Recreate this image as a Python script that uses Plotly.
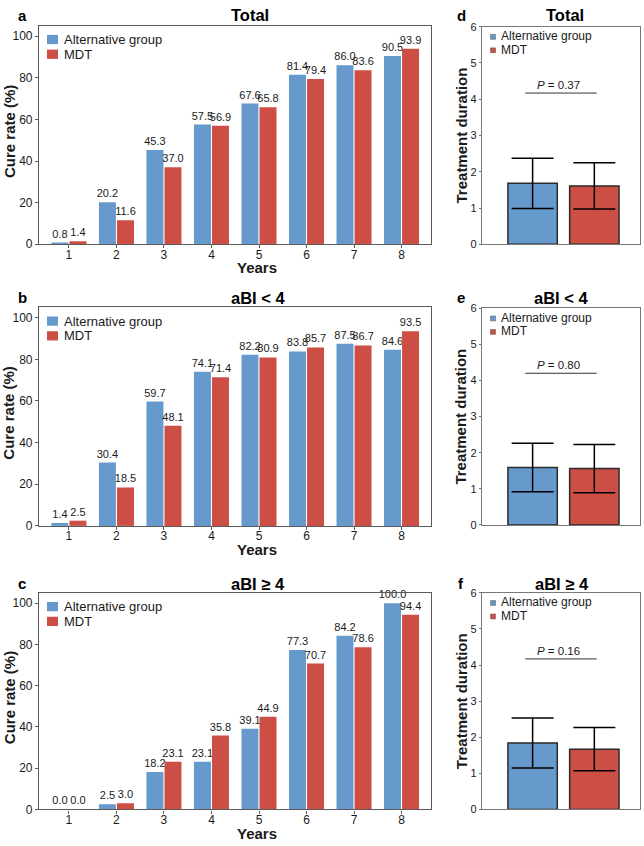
import plotly.graph_objects as go

# ---------------- data ----------------
years = [1, 2, 3, 4, 5, 6, 7, 8]
total_alt = [0.8, 20.2, 45.3, 57.5, 67.6, 81.4, 86.0, 90.5]
total_mdt = [1.4, 11.6, 37.0, 56.9, 65.8, 79.4, 83.6, 93.9]
low_alt = [1.4, 30.4, 59.7, 74.1, 82.2, 83.8, 87.5, 84.6]
low_mdt = [2.5, 18.5, 48.1, 71.4, 80.9, 85.7, 86.7, 93.5]
high_alt = [0.0, 2.5, 18.2, 23.1, 39.1, 77.3, 84.2, 100.0]
high_mdt = [0.0, 3.0, 23.1, 35.8, 44.9, 70.7, 78.6, 94.4]

groups = ["Alternative group", "MDT"]
dur_alt_mean = [1.68, 1.59, 1.84]
dur_alt_sd = [0.69, 0.67, 0.69]
dur_mdt_mean = [1.61, 1.56, 1.67]
dur_mdt_sd = [0.64, 0.67, 0.60]
p_values = ["0.37", "0.80", "0.16"]
p_line_y = [4.17, 4.20, 4.17]

titles = ["Total", "aBI < 4", "aBI ≥ 4"]
left_letters = ["a", "b", "c"]
right_letters = ["d", "e", "f"]

# ---------------- style ----------------
W, H = 644, 846
FONT = "Liberation Sans, Arial, sans-serif"
BLUE = "#6699cc"
RED = "#cc4e45"
FRAME = "#5a5a5a"
TXT = "#1a1a1a"

def px_x(x):
    return x / W

def px_y(y):
    return 1 - y / H

# plot areas in pixels: (x0, x1, ytop, ybottom)
left_boxes = [(39, 431, 20, 242), (39, 431, 306, 528), (39, 431, 596, 816)]
right_boxes = [(482, 640, 21, 242), (482, 640, 307, 527), (482, 640, 596, 816)]
left_title_x = [250, 258, 258]
right_title_x = [565, 561, 562]
title_y = [9, 297, 587]
letter_y = [10, 296, 587]

fig = go.Figure()
layout = dict(
    width=W, height=H,
    margin=dict(l=0, r=0, t=0, b=0),
    paper_bgcolor="white", plot_bgcolor="white",
    font=dict(family=FONT, color=TXT),
    barmode="group", bargap=0.24, bargroupgap=0.06,
    showlegend=False,
)
annotations = []
shapes = []

left_data = [(total_alt, total_mdt), (low_alt, low_mdt), (high_alt, high_mdt)]

for i in range(3):
    # ---------- left panel ----------
    ax = 2 * i + 1
    xa = "x" if ax == 1 else f"x{ax}"
    ya = "y" if ax == 1 else f"y{ax}"
    x0, x1, yt, yb = left_boxes[i]
    alt, mdt = left_data[i]
    for vals, name, col in [(alt, groups[0], BLUE), (mdt, groups[1], RED)]:
        fig.add_trace(go.Bar(
            x=years, y=vals, name=name, xaxis=xa, yaxis=ya,
            marker=dict(color=col, line=dict(width=0)),
            text=[f"{v:.1f}" for v in vals], textposition="outside",
            constraintext="none", cliponaxis=False,
            textfont=dict(size=11, color=TXT, family=FONT),
        ))
    layout[f"xaxis{'' if ax == 1 else ax}"] = dict(
        domain=[px_x(x0), px_x(x1)], anchor=ya, range=[0.37, 8.62],
        tickmode="array", tickvals=years, ticktext=[str(y) for y in years],
        ticks="outside", ticklen=3, tickcolor=FRAME, ticklabelstandoff=-4,
        showline=True, linecolor=FRAME, linewidth=1.2, mirror=True,
        showgrid=False, zeroline=False,
        tickfont=dict(size=12, color=TXT),
    )
    layout[f"yaxis{'' if ax == 1 else ax}"] = dict(
        domain=[px_y(yb), px_y(yt)], anchor=xa, range=[0, 105],
        tickvals=[0, 20, 40, 60, 80, 100],
        ticks="outside", ticklen=3, tickcolor=FRAME,
        showline=True, linecolor=FRAME, linewidth=1.2, mirror=True,
        showgrid=False, zeroline=False,
        tickfont=dict(size=12, color=TXT),
    )
    # titles, letters, axis labels
    annotations.append(dict(text=f"<b>{titles[i]}</b>", x=px_x(left_title_x[i]), y=px_y(title_y[i]),
                            xref="paper", yref="paper", showarrow=False, xanchor="center", yanchor="middle",
                            font=dict(size=16.5, color="#000")))
    annotations.append(dict(text=f"<b>{left_letters[i]}</b>", x=px_x(22), y=px_y(letter_y[i]),
                            xref="paper", yref="paper", showarrow=False, xanchor="center", yanchor="middle",
                            font=dict(size=15, color="#000")))
    annotations.append(dict(text="<b>Years</b>", x=px_x(257), y=px_y(yb + 24),
                            xref="paper", yref="paper", showarrow=False, xanchor="center", yanchor="middle",
                            font=dict(size=15, color=TXT)))
    annotations.append(dict(text="<b>Cure rate (%)</b>", x=px_x(9), y=px_y((yt + yb) / 2 - 3),
                            xref="paper", yref="paper", showarrow=False, xanchor="center", yanchor="middle",
                            textangle=-90, font=dict(size=15, color=TXT)))
    # legend (left)
    for k, (name, col) in enumerate(zip(groups, [BLUE, RED])):
        cy = yt + 14 + 15 * k
        shapes.append(dict(type="rect", xref="paper", yref="paper",
                           x0=px_x(47), x1=px_x(58), y0=px_y(cy - 4.7), y1=px_y(cy + 4.7),
                           fillcolor=col, line=dict(width=0)))
        annotations.append(dict(text=name, x=px_x(62), y=px_y(cy), xref="paper", yref="paper",
                                showarrow=False, xanchor="left", yanchor="middle",
                                font=dict(size=13, color=TXT)))

    # ---------- right panel ----------
    ax = 2 * i + 2
    xa = f"x{ax}"
    ya = f"y{ax}"
    x0, x1, yt, yb = right_boxes[i]
    for pos, mean, sd, name, col in [(0, dur_alt_mean[i], dur_alt_sd[i], groups[0], BLUE),
                                     (1, dur_mdt_mean[i], dur_mdt_sd[i], groups[1], RED)]:
        fig.add_trace(go.Bar(
            x=[pos], y=[mean], name=name, xaxis=xa, yaxis=ya,
            width=0.8, offset=-0.4,
            marker=dict(color=col, line=dict(color="#2a2a2a", width=1.5)),
            error_y=dict(type="data", array=[sd], visible=True, color="#000", thickness=1.5, width=21),
        ))
    layout[f"xaxis{ax}"] = dict(
        domain=[px_x(x0), px_x(x1)], anchor=ya, range=[-0.82, 1.74],
        showticklabels=False, ticks="",
        showline=True, linecolor="#777", linewidth=1.2, mirror=True,
        showgrid=False, zeroline=False,
    )
    layout[f"yaxis{ax}"] = dict(
        domain=[px_y(yb), px_y(yt)], anchor=xa, range=[0, 6],
        tickvals=[0, 1, 2, 3, 4, 5, 6],
        ticks="outside", ticklen=2, tickcolor="#777",
        showline=True, linecolor="#777", linewidth=1.2, mirror=True,
        showgrid=False, zeroline=False,
        tickfont=dict(size=11, color=TXT),
    )
    xr = f"x{ax}"
    yr = f"y{ax}"
    shapes.append(dict(type="line", xref=xr, yref=yr, x0=0 - 0.12, x1=1 + 0.04,
                       y0=p_line_y[i], y1=p_line_y[i], line=dict(color="#333", width=1)))
    annotations.append(dict(text=f"<i>P</i> = {p_values[i]}", x=0.42, y=p_line_y[i],
                            xref=xr, yref=yr, showarrow=False, xanchor="center", yanchor="bottom",
                            yshift=0, font=dict(size=11.5, color=TXT)))
    annotations.append(dict(text=f"<b>{titles[i]}</b>", x=px_x(right_title_x[i]), y=px_y(title_y[i]),
                            xref="paper", yref="paper", showarrow=False, xanchor="center", yanchor="middle",
                            font=dict(size=16.5, color="#000")))
    annotations.append(dict(text=f"<b>{right_letters[i]}</b>", x=px_x(461), y=px_y(letter_y[i]),
                            xref="paper", yref="paper", showarrow=False, xanchor="center", yanchor="middle",
                            font=dict(size=15, color="#000")))
    annotations.append(dict(text="<b>Treatment duration</b>", x=px_x(461), y=px_y((yt + yb) / 2),
                            xref="paper", yref="paper", showarrow=False, xanchor="center", yanchor="middle",
                            textangle=-90, font=dict(size=15, color=TXT)))
    # legend (right)
    for k, (name, col) in enumerate(zip(groups, [BLUE, RED])):
        cy = yt + 10.3 + 13.7 * k
        shapes.append(dict(type="rect", xref="paper", yref="paper",
                           x0=px_x(490.5), x1=px_x(495.5), y0=px_y(cy - 2.5), y1=px_y(cy + 2.5),
                           fillcolor=col, line=dict(width=0.5, color="#555")))
        annotations.append(dict(text=name, x=px_x(499), y=px_y(cy - 0.8), xref="paper", yref="paper",
                                showarrow=False, xanchor="left", yanchor="middle",
                                font=dict(size=12, color=TXT)))

layout["annotations"] = annotations
layout["shapes"] = shapes
fig.update_layout(**layout)
fig.write_html("out.html")
